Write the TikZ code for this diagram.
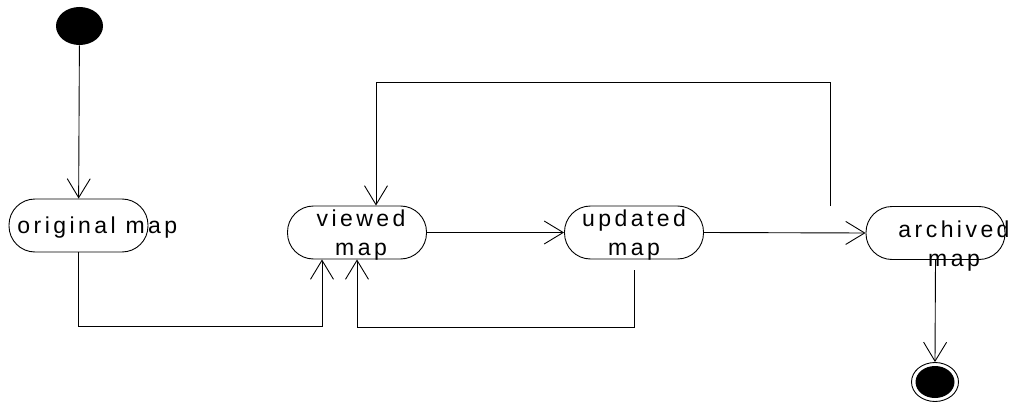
\documentclass[tikz,border=0pt]{standalone}
\usepackage{fontspec}
\usepackage{tikz}
\usetikzlibrary{arrows.meta,shapes.geometric}
\newfontfamily\statefont{Liberation Sans}[LetterSpace=15]

\begin{document}
\begin{tikzpicture}[
  x=1pt,y=-1pt,line width=0.9pt,
  state/.style={rectangle,draw=black,rounded corners=26pt,minimum width=139pt,minimum height=53pt,inner sep=0pt},
  statetext/.style={font=\statefont\fontsize{23}{29}\selectfont,align=center,anchor=base,inner sep=0pt},
  trans/.style={-{Straight Barb[length=19pt,width=23pt,line width=0.9pt]}},
  initial/.style={ellipse,fill=black,minimum width=47pt,minimum height=38pt,inner sep=0pt},
  final/.style={ellipse,draw=black,minimum width=47pt,minimum height=39pt,inner sep=0pt}
]
\useasboundingbox (0,0) rectangle (1013,404);

% states
\node[initial] (start) at (79.5,26) {};
\node[state] (orig) at (78.5,225.5) {};
\node[state] (viewed) at (357,232.5) {};
\node[state] (updated) at (634,232.5) {};
\node[state] (archived) at (935.5,233) {};
\node[final] (stop) at (935,382) {};
\fill (stop.center) ellipse (19.5 and 16);

% labels (base = last line)
\node[statetext,anchor=base west] (origtxt) at (17,233) {original map};
\node[statetext] (viewedtxt) at (361,255) {viewed\\map};
\node[statetext] (updatedtxt) at (634,255) {updated\\map};
\node[statetext] (archivedtxt) at (954,266) {archived\\map};

% transitions
\draw[trans] (start) -- (orig);
\draw[trans] (orig.south) -- ++(0,74) -| ([xshift=-35pt]viewed.south);
\draw[trans] (viewed.east) -- (updated.west);
\draw[trans] ([yshift=-11pt]updated.south) -- ++(0,57) -| (viewed.south);
\draw[trans] (updated.east) -- (archived.west);
\draw[trans] ([xshift=-105pt]archived.north) -- ++(0,-124) -| ([xshift=19pt]viewed.north);
\draw[trans] (archived.south) -- (stop.north);

\end{tikzpicture}
\end{document}
